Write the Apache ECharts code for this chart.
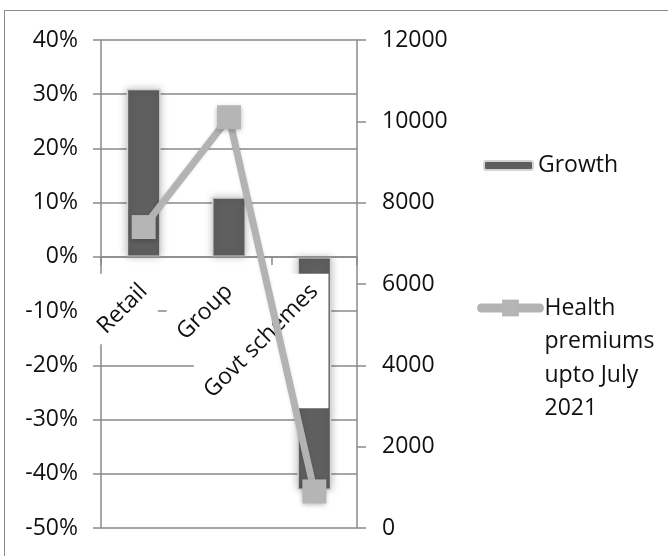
<!DOCTYPE html>
<html>
<head>
<meta charset="utf-8">
<script src="https://cdn.jsdelivr.net/npm/echarts@6/dist/echarts.min.js"></script>
<style>
html,body{margin:0;padding:0;background:#fff;}
#wrap{position:relative;width:668px;height:556px;overflow:hidden;}
#frame{position:absolute;left:4px;top:10px;right:-10px;bottom:-10px;border-left:1.5px solid #8a8a8a;border-top:1.5px solid #8a8a8a;}
#chart{position:absolute;left:0;top:0;width:668px;height:556px;}
</style>
</head>
<body>
<div id="wrap"><div id="frame"></div><div id="chart"></div></div>
<script>
const categories = ['Retail', 'Group', 'Govt schemes'];
const growth = [31, 11, -43];
const premiums = [7400, 10100, 900];
const growthName = 'Growth';
const premiumName = 'Health premiums upto July 2021';
const leftTicks = {min: -50, max: 40, interval: 10};
const rightTicks = {min: 0, max: 12000, interval: 2000};

const FONT = 'Open Sans';
const FS = 23;
const axisGray = '#8a8a8a';
const LH = 33.5;
const LABEL_MARGIN = 31;
const BOX_H = 40;

// measure category label widths (for the white label boxes, as in the original)
const mctx = document.createElement('canvas').getContext('2d');
mctx.font = FS + 'px "' + FONT + '"';
const labelWidths = categories.map(function (c) { return mctx.measureText(c).width; });

const chart = echarts.init(document.getElementById('chart'), null, {renderer: 'canvas'});
chart.setOption({
  animation: false,
  backgroundColor: 'transparent',
  textStyle: {fontFamily: FONT},
  grid: {left: 101, right: 311, top: 40, bottom: 28, outerBoundsMode: 'none', containLabel: false},
  legend: [
    {
      data: [growthName], orient: 'vertical', left: 483, top: 154, padding: 0,
      itemWidth: 49, itemHeight: 9,
      textStyle: {fontFamily: FONT, fontSize: FS, color: '#111'}
    },
    {
      data: [premiumName], orient: 'vertical', left: 477, top: 308 - 3.5 * LH, padding: 0,
      itemWidth: 58, itemHeight: 21,
      lineStyle: {width: 9, cap: 'round', color: '#b3b3b3'},
      formatter: function () { return '\n\n\nHealth\npremiums\nupto July\n2021'; },
      textStyle: {fontFamily: FONT, fontSize: FS, color: '#111', lineHeight: LH}
    }
  ],
  xAxis: [
    {
      type: 'category', data: categories, z: 3,
      axisLine: {onZero: true, onZeroAxisIndex: 0, lineStyle: {color: axisGray, width: 1.5}},
      axisTick: {show: true, length: 8, lineStyle: {color: axisGray, width: 1.5}},
      axisLabel: {show: false}
    },
    {
      type: 'category', data: categories, z: 3, position: 'bottom', offset: 0,
      axisLine: {show: false, onZero: false},
      axisTick: {show: false},
      axisLabel: {interval: 0, rotate: 45, margin: LABEL_MARGIN, fontFamily: FONT, fontSize: FS, color: '#111'}
    }
  ],
  yAxis: [
    {
      type: 'value', min: leftTicks.min, max: leftTicks.max, interval: leftTicks.interval,
      axisLine: {show: true, lineStyle: {color: axisGray, width: 1.5}},
      axisTick: {show: true, length: 8, lineStyle: {color: axisGray, width: 1.5}},
      splitLine: {show: true, lineStyle: {color: axisGray, width: 1.5}},
      axisLabel: {formatter: '{value}%', margin: 23, fontFamily: FONT, fontSize: FS, color: '#111'}
    },
    {
      type: 'value', min: rightTicks.min, max: rightTicks.max, interval: rightTicks.interval,
      position: 'right',
      axisLine: {show: true, lineStyle: {color: axisGray, width: 1.5}},
      axisTick: {show: true, length: 9, lineStyle: {color: axisGray, width: 1.5}},
      splitLine: {show: false},
      axisLabel: {margin: 25, fontFamily: FONT, fontSize: FS, color: '#111',
        formatter: function (v) { return String(v); }}
    }
  ],
  series: [
    {
      name: growthName, type: 'bar', xAxisIndex: 0, yAxisIndex: 0, data: growth, barWidth: 34, z: 1,
      itemStyle: {color: '#5f5f5f', borderColor: '#d4d4d4', borderWidth: 1.5,
        shadowColor: 'rgba(0,0,0,0.25)', shadowBlur: 8}
    },
    {
      // white backing boxes behind the rotated category labels
      type: 'custom', xAxisIndex: 0, yAxisIndex: 0, z: 2, silent: true, clip: false,
      data: categories.map(function (c, i) { return [i, 0]; }),
      renderItem: function (params, api) {
        const p = api.coord([api.value(0), 0]);
        const L = labelWidths[params.dataIndex];
        const s = (L + BOX_H) * Math.SQRT1_2;
        const right = p[0] + BOX_H / 2 * Math.SQRT1_2;
        const top = p[1] + LABEL_MARGIN - BOX_H / 2 * Math.SQRT1_2;
        return {type: 'rect', shape: {x: right - s, y: top, width: s, height: s}, style: {fill: '#fff'}};
      }
    },
    {
      name: premiumName, type: 'line', xAxisIndex: 0, yAxisIndex: 1, data: premiums, z: 5,
      symbol: 'rect', symbolSize: 24,
      lineStyle: {color: '#b3b3b3', width: 7, shadowColor: 'rgba(0,0,0,0.15)', shadowBlur: 3},
      itemStyle: {color: '#b5b5b5', shadowColor: 'rgba(0,0,0,0.3)', shadowBlur: 5, shadowOffsetY: 2}
    }
  ]
});
// move the category labels up to the zero line, like the axis line
const zeroY = chart.convertToPixel({yAxisIndex: 0}, 0);
const bottomY = chart.convertToPixel({yAxisIndex: 0}, leftTicks.min);
chart.setOption({xAxis: [{}, {offset: -(bottomY - zeroY)}]});
</script>
</body>
</html>
